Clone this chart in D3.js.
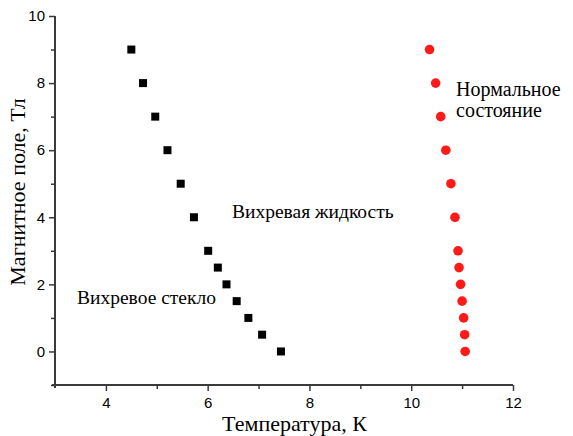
<!DOCTYPE html>
<html>
<head>
<meta charset="utf-8">
<script src="https://cdn.jsdelivr.net/npm/d3@7"></script>
<style>
  body { margin: 0; background: #fff; }
  .tick text { font-family: "Liberation Sans", Arimo, Arial, sans-serif; font-size: 15px; fill: #000; }
  .lbl { font-family: "Liberation Serif", Tinos, "Times New Roman", "DejaVu Serif", serif; fill: #000; }
</style>
</head>
<body>
<div id="container"></div>
<script>
// field values, T
let fieldVals = [9, 8, 7, 6, 5, 4, 3, 2.5, 2, 1.5, 1, 0.5, 0];
// vortex glass -> vortex liquid boundary, K
let glassTemp = [4.50, 4.73, 4.97, 5.21, 5.47, 5.73, 6.01, 6.20, 6.37, 6.57, 6.80, 7.07, 7.44];
// upper critical field, K
let normalTemp = [10.36, 10.48, 10.58, 10.68, 10.78, 10.86, 10.92, 10.94, 10.97, 11.00, 11.03, 11.05, 11.06];

let xTicks = [4, 6, 8, 10, 12];
let xMinor = [5, 7, 9, 11];
let yTicks = [0, 2, 4, 6, 8, 10];
let yMinor = [-1, 1, 3, 5, 7, 9];

let width = 573, height = 436;
let plotLeft = 55, plotRight = 513, plotTop = 16, plotBottom = 385;

let svg = d3.select('#container')
    .append("svg")
    .attr("width", width)
    .attr("height", height);

let x = d3.scaleLinear().domain([3, 12]).range([plotLeft, plotRight]);
let y = d3.scaleLinear().domain([-1, 10]).range([plotBottom, plotTop]);

let axisColor = "#3a3a3a";

//x axis
let gx = svg.append("g")
    .attr("transform", `translate(0,${plotBottom})`)
    .call(d3.axisBottom(x).tickValues(xTicks).tickSize(6).tickPadding(6).tickFormat(d3.format("d")));
gx.append("g").call(d3.axisBottom(x).tickValues(xMinor).tickSize(4).tickFormat(""));

//y axis
let gy = svg.append("g")
    .attr("transform", `translate(${plotLeft},0)`)
    .call(d3.axisLeft(y).tickValues(yTicks).tickSize(6).tickPadding(4).tickFormat(d3.format("d")));
gy.append("g").call(d3.axisLeft(y).tickValues(yMinor).tickSize(4).tickFormat(""));

svg.selectAll(".domain").remove();
svg.selectAll(".tick line").attr("stroke", axisColor).attr("stroke-width", 1.5);

svg.append("line")
    .attr("x1", plotLeft - 3).attr("x2", plotRight)
    .attr("y1", plotBottom).attr("y2", plotBottom)
    .attr("stroke", axisColor).attr("stroke-width", 2);
svg.append("line")
    .attr("x1", plotLeft).attr("x2", plotLeft)
    .attr("y1", plotTop).attr("y2", plotBottom + 3)
    .attr("stroke", axisColor).attr("stroke-width", 2);

//black squares
let sq = 8;
svg.selectAll("rect.glass")
    .data(fieldVals)
    .enter()
    .append("rect")
    .attr("class", "glass")
    .attr("x", (d, i) => x(glassTemp[i]) - sq / 2)
    .attr("y", d => y(d) - sq / 2)
    .attr("width", sq)
    .attr("height", sq)
    .attr("fill", "#000");

//red circles
svg.selectAll("circle")
    .data(fieldVals)
    .enter()
    .append("circle")
    .attr("cx", (d, i) => x(normalTemp[i]))
    .attr("cy", d => y(d))
    .attr("r", 4.8)
    .attr("fill", "#ff1a1a");

//labels
svg.append("text").attr("class", "lbl")
    .attr("x", 294.5).attr("y", 431)
    .attr("text-anchor", "middle").attr("font-size", 22)
    .text("Температура, К");

svg.append("text").attr("class", "lbl")
    .attr("transform", `translate(25,192) rotate(-90)`)
    .attr("text-anchor", "middle").attr("font-size", 22)
    .text("Магнитное поле, Тл");

svg.append("text").attr("class", "lbl")
    .attr("x", 77).attr("y", 304).attr("font-size", 19.5)
    .text("Вихревое стекло");

svg.append("text").attr("class", "lbl")
    .attr("x", 232).attr("y", 218).attr("font-size", 19.5)
    .text("Вихревая жидкость");

svg.append("text").attr("class", "lbl")
    .attr("x", 456).attr("y", 96).attr("font-size", 20)
    .text("Нормальное");
svg.append("text").attr("class", "lbl")
    .attr("x", 456).attr("y", 117).attr("font-size", 20)
    .text("состояние");
</script>
</body>
</html>
